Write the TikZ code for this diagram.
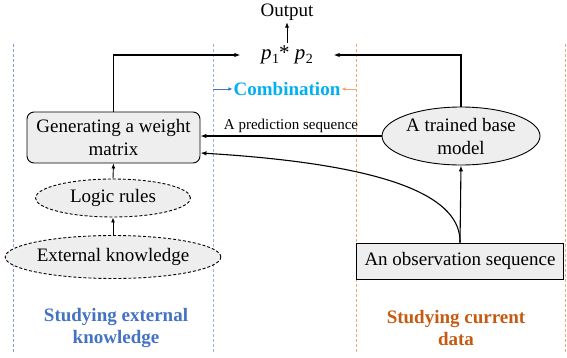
\documentclass[tikz,border=0pt]{standalone}
\usepackage{fontspec}
\setmainfont{Liberation Serif}
\usetikzlibrary{shapes.geometric,arrows.meta}
\definecolor{lblue}{HTML}{7F9FD8}
\definecolor{mblue}{HTML}{9DB3E0}
\definecolor{lorange}{HTML}{F4A870}
\definecolor{combc}{HTML}{00B0F0}
\definecolor{textblue}{HTML}{4472C4}
\definecolor{textorange}{HTML}{C55A11}
\definecolor{boxfill}{HTML}{EEEEEE}
\newcommand{\psub}[1]{\textit{p}\kern0.5pt\raisebox{-4pt}{\fontsize{14}{14}\selectfont #1}}
\tikzset{
  every node/.style={font=\fontsize{19}{23}\selectfont, inner sep=0pt},
  arr/.style={-{Latex[length=6pt,width=4.5pt]}, line width=1.1pt},
  sarr/.style={-{Latex[length=5pt,width=4pt]}, line width=0.9pt},
  divline/.style={dash pattern=on 3pt off 2pt, line width=0.9pt},
  rbox/.style={draw, line width=0.9pt, fill=boxfill, rounded corners=7pt, align=center},
  sbox/.style={draw, line width=0.9pt, fill=boxfill},
  ell/.style={ellipse, draw, line width=0.9pt, fill=boxfill, align=center},
  dell/.style={ell, dash pattern=on 3pt off 2pt},
  biglabel/.style={font=\fontsize{19}{22}\selectfont\bfseries, align=center}
}
\begin{document}
\begin{tikzpicture}[x=1pt,y=-1pt]
\useasboundingbox (0,0) rectangle (567,357);
% divider lines
\draw[divline, lblue] (13,44) -- (13,353);
\draw[divline, mblue] (213,44) -- (213,353);
\draw[divline, lorange] (356,44) -- (356,353);
\draw[divline, lorange] (565,44) -- (565,353);
% top
\node (out) at (287,12) {Output};
\node[minimum width=93pt, minimum height=24pt, font=\fontsize{21}{23}\selectfont] (prod) at (287,55) {\psub{1}* \psub{2}};
\draw[-{Latex[length=5pt,width=4pt]}, line width=0.6pt] (prod.north) -- ([yshift=-2pt]out.south);
\node[font=\fontsize{19}{23}\selectfont\bfseries, text=combc, inner xsep=1pt] (comb) at (287,89) {Combination};
\coordinate (cb) at (213,89);
\coordinate (co) at (356,89);
\draw[-{Latex[length=4pt,width=3.5pt]}, line width=0.6pt, textblue] (cb) -- (comb.west);
\draw[-{Latex[length=4pt,width=3.5pt]}, line width=0.6pt, lorange] (co) -- (comb.east);
% left column
\node[rbox, minimum width=173pt, minimum height=51pt] (gen) at (113.5,137.5) {Generating a weight\\matrix};
\node[dell, minimum width=155pt, minimum height=38pt] (logic) at (113,198) {Logic rules};
\node[dell, minimum width=199pt, minimum height=43pt] (ext) at (113,257) {External knowledge};
% right column
\node[ell, minimum width=158pt, minimum height=58pt] (model) at (461,136) {A trained base\\model};
\node[sbox, minimum width=207pt, minimum height=36pt] (obs) at (460,261) {An observation sequence};
% connectors
\draw[arr] (gen.north) |- (prod.west);
\draw[arr] (model.north) |- (prod.east);
\draw[sarr] (logic.north) -- (gen.south);
\draw[sarr] (ext.north) -- (logic.south);
\draw[arr] (model.west) -- node[above=3pt, font=\fontsize{15}{18}\selectfont] {A prediction sequence} (model.west -| gen.east);
\draw[arr] (obs.north) -- (model.south);
\draw[arr] (obs.north) .. controls (461,200) and (400,165) .. ([yshift=-15.5pt]gen.east);
% bottom labels
\node[biglabel, text=textblue] (lk) at (116,328) {Studying external\\knowledge};
\node[biglabel, text=textorange] (ld) at (456,328) {Studying current\\data};
\end{tikzpicture}
\end{document}
